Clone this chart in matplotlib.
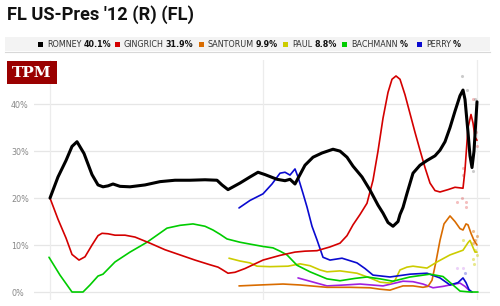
import matplotlib
matplotlib.use("Agg")
import matplotlib.pyplot as plt
from matplotlib.patches import Rectangle
from matplotlib import font_manager
import numpy as np

# ---------------- data (x = days from start, y = %) ----------------
romney_x = [0, 8, 16, 22, 27, 34, 42, 48, 53, 58, 63, 70, 80, 95, 110, 125, 140, 155, 167, 172, 178, 184, 190, 200, 208, 215, 227, 235, 240, 245, 250, 255, 263, 272, 283, 290, 297, 303, 312, 320, 328, 333, 338, 343, 348, 350, 353, 357, 363, 370, 377, 385, 390, 395, 400, 405, 410, 413, 415, 418, 420, 422, 424, 426, 427]
romney_y = [20.0, 24.5, 28.0, 31.0, 32.0, 29.5, 25.0, 22.8, 22.4, 22.6, 23.0, 22.5, 22.4, 22.8, 23.5, 23.8, 23.8, 23.9, 23.8, 22.8, 21.8, 22.5, 23.2, 24.5, 25.5, 25.0, 24.0, 23.7, 24.0, 23.0, 25.0, 27.0, 28.7, 29.6, 30.4, 30.0, 28.7, 26.8, 24.5, 21.7, 18.5, 16.8, 14.8, 14.0, 15.0, 16.5, 18.0, 21.0, 25.3, 27.0, 28.0, 29.0, 30.2, 32.0, 35.0, 38.5, 41.8, 43.0, 41.0, 34.0, 29.0, 26.5, 30.0, 37.0, 40.5]

gingrich_x = [0, 8, 16, 22, 29, 35, 42, 48, 52, 58, 65, 75, 85, 100, 115, 130, 145, 160, 168, 172, 178, 185, 195, 213, 230, 245, 255, 267, 280, 290, 297, 303, 310, 317, 323, 328, 333, 338, 342, 346, 350, 355, 360, 365, 370, 375, 380, 385, 390, 398, 405, 413, 415, 418, 421, 423, 425, 427]
gingrich_y = [20.0, 15.5, 11.5, 8.0, 6.8, 7.5, 10.0, 12.0, 12.5, 12.4, 12.1, 12.1, 11.7, 10.4, 9.0, 7.9, 6.8, 5.8, 5.3, 4.8, 4.0, 4.2, 5.0, 6.8, 7.8, 8.5, 8.7, 8.8, 9.6, 10.4, 12.0, 14.3, 16.5, 18.9, 23.8, 30.0, 37.0, 42.5, 45.3, 46.0, 45.3, 42.0, 38.0, 34.0, 30.2, 26.5, 23.2, 21.6, 21.3, 21.8, 22.3, 22.1, 26.0, 35.0, 37.8, 36.0, 33.0, 32.3]

santorum_x = [189, 210, 233, 250, 277, 300, 320, 330, 340, 347, 353, 363, 373, 378, 382, 386, 390, 394, 400, 405, 410, 413, 416, 418, 421, 424, 427]
santorum_y = [1.3, 1.5, 1.7, 1.5, 1.0, 1.0, 0.9, 0.6, 0.4, 0.9, 1.3, 1.3, 1.0, 1.2, 2.5, 6.5, 11.0, 14.5, 16.2, 15.0, 13.5, 13.2, 14.5, 14.3, 12.5, 11.0, 10.0]

paul_x = [179, 190, 200, 207, 220, 238, 250, 260, 270, 277, 290, 307, 320, 330, 340, 345, 350, 357, 363, 370, 377, 387, 400, 413, 418, 420, 423, 425, 427]
paul_y = [7.2, 6.6, 6.2, 5.5, 5.4, 5.5, 6.0, 5.6, 4.7, 4.3, 4.5, 4.0, 3.0, 2.1, 1.9, 2.5, 4.7, 5.3, 5.5, 5.3, 5.1, 6.4, 7.9, 8.9, 10.5, 11.0, 9.5, 8.5, 8.5]

bachmann_x = [-1, 10, 22, 33, 40, 48, 53, 65, 80, 97, 117, 130, 143, 155, 163, 170, 177, 190, 200, 213, 223, 230, 237, 247, 260, 277, 290, 305, 317, 330, 343, 360, 380, 393, 403, 410, 420, 428]
bachmann_y = [7.4, 3.6, 0.0, 0.0, 1.5, 3.4, 3.8, 6.4, 8.5, 10.6, 13.6, 14.2, 14.5, 14.0, 13.2, 12.3, 11.3, 10.6, 10.2, 9.7, 9.4, 8.7, 7.9, 5.7, 4.3, 2.8, 2.4, 2.9, 3.2, 2.8, 2.3, 3.2, 3.8, 3.3, 1.5, 0.2, 0.0, 0.0]

perry_x = [189, 200, 213, 222, 230, 235, 240, 245, 248, 253, 257, 262, 267, 273, 280, 292, 307, 315, 323, 340, 360, 377, 390, 400, 408, 413, 416, 419, 422]
perry_y = [17.9, 19.5, 20.9, 23.0, 25.3, 25.5, 24.9, 26.2, 24.5, 21.0, 18.1, 14.0, 11.1, 7.4, 6.8, 7.2, 6.2, 5.0, 3.6, 3.2, 3.8, 4.0, 3.0, 1.5, 2.0, 3.0, 2.0, 0.5, 0.0]

other_x = [248, 277, 295, 310, 333, 345, 353, 363, 373, 383, 393, 400, 410, 415, 420, 422]
other_y = [3.0, 1.3, 1.5, 1.7, 1.3, 1.9, 2.3, 2.2, 1.7, 0.9, 1.2, 1.5, 1.9, 1.2, 0.2, 0.0]

# raw poll dots near the end
dots_romney_x = [412, 417, 425, 423]
dots_romney_y = [46.0, 43.0, 41.2, 25.7]
dots_gingrich_x = [423, 426, 427, 413, 413, 412, 416, 416, 407]
dots_gingrich_y = [41.2, 34.0, 31.0, 26.4, 25.0, 20.0, 19.1, 18.1, 19.1]
dots_santorum_x = [423, 427, 425, 423]
dots_santorum_y = [13.0, 12.0, 11.0, 10.5]
dots_paul_x = [413, 425, 427, 423, 424]
dots_paul_y = [11.0, 8.9, 7.9, 7.0, 6.0]
dots_other_x = [407, 413]
dots_other_y = [5.1, 5.1]
dots_perry_x = [415]
dots_perry_y = [4.0]

yticks = [0, 10, 20, 30, 40]
ytick_labels = ["0%", "10%", "20%", "30%", "40%"]
vgrid = [0, 213, 427]

title = "FL US-Pres '12 (R) (FL)"
legend_names = ["ROMNEY", "GINGRICH", "SANTORUM", "PAUL", "BACHMANN", "PERRY"]
legend_values = ["40.1%", "31.9%", "9.9%", "8.8%", "%", "%"]

# ---------------- styling ----------------
C_ROM = "#000000"
C_GIN = "#d40000"
C_SAN = "#d96c00"
C_PAU = "#cccc00"
C_BAC = "#00cc00"
C_PER = "#0a0ad0"
C_OTH = "#a020e0"
legend_colors = [C_ROM, C_GIN, C_SAN, C_PAU, C_BAC, C_PER]

W, H = 500, 306
fig = plt.figure(figsize=(W / 100, H / 100), dpi=100)
fig.patch.set_facecolor("white")

def fx(px):
    return px / W

def fy(py):
    return 1 - py / H

# axes: px 34..490 horizontally, py 60..300 vertically
ax = fig.add_axes([fx(34), fy(300), fx(490) - fx(34), fy(60) - fy(300)])
ax.set_xlim(-16, 440)
ax.set_ylim(-1.7, 49.4)
for s in ax.spines.values():
    s.set_visible(False)
for yv in yticks:
    ax.axhline(yv, color="#e6e6e6", lw=0.9, zorder=0)
for xv in vgrid:
    ax.axvline(xv, color="#ececec", lw=0.9, zorder=0)
ax.set_xticks([])
ax.set_yticks(yticks)
ax.set_yticklabels(ytick_labels)
ax.tick_params(axis="y", length=0, pad=16.5, labelsize=5.8, labelcolor="#888888")
for lab in ax.get_yticklabels():
    lab.set_horizontalalignment("left")

# dots
dot_kw = dict(s=5, lw=0, zorder=1)
ax.scatter(dots_gingrich_x, dots_gingrich_y, color=C_GIN, alpha=0.25, **dot_kw)
ax.scatter(dots_romney_x, dots_romney_y, color="#555555", alpha=0.3, **dot_kw)
ax.scatter(dots_santorum_x, dots_santorum_y, color=C_SAN, alpha=0.45, **dot_kw)
ax.scatter(dots_paul_x, dots_paul_y, color=C_PAU, alpha=0.45, **dot_kw)
ax.scatter(dots_other_x, dots_other_y, color=C_OTH, alpha=0.2, **dot_kw)
ax.scatter(dots_perry_x, dots_perry_y, color=C_PER, alpha=0.3, **dot_kw)

lk = dict(solid_joinstyle="round", solid_capstyle="round")
ax.plot(other_x, other_y, color=C_OTH, lw=1.2, zorder=2, **lk)
ax.plot(santorum_x, santorum_y, color=C_SAN, lw=1.2, zorder=2, **lk)
ax.plot(paul_x, paul_y, color=C_PAU, lw=1.2, zorder=2, **lk)
ax.plot(perry_x, perry_y, color=C_PER, lw=1.2, zorder=3, **lk)
ax.plot(bachmann_x, bachmann_y, color=C_BAC, lw=1.2, zorder=3, **lk)
ax.plot(gingrich_x, gingrich_y, color=C_GIN, lw=1.2, zorder=4, **lk)
ax.plot(romney_x, romney_y, color=C_ROM, lw=2.2, zorder=5, **lk)

renderer = fig.canvas.get_renderer()

# title, fitted to the reference width (px 7..195)
tt = fig.text(fx(7), fy(15), title, fontsize=19, va="center", ha="left", color="#111111",
              fontweight="bold", family=["Roboto", "Liberation Sans", "DejaVu Sans"])
tw = tt.get_window_extent(renderer).width
tt.set_fontsize(min(20, 19 * 188.0 / tw))

# legend band
band = Rectangle((fx(5), fy(51)), fx(490) - fx(5), fy(37) - fy(51), transform=fig.transFigure,
                 facecolor="#f3f3f3", edgecolor="none", zorder=0)
fig.patches.append(band)
fig.add_artist(plt.Line2D([fx(5), fx(490)], [fy(52), fy(52)], transform=fig.transFigure,
                          color="#d8d8d8", lw=0.8))

sq_px = [38, 115, 199, 283, 342, 417]
for name, val, col, sx in zip(legend_names, legend_values, legend_colors, sq_px):
    fig.add_artist(Rectangle((fx(sx), fy(47)), 5 / W, 5 / H, transform=fig.transFigure,
                             facecolor=col, edgecolor="none"))
    t = fig.text(fx(sx + 9), fy(44.5), name, fontsize=5.8, color="#333333", va="center", ha="left")
    bb = t.get_window_extent(renderer)
    fig.text(bb.x1 / W + 2 / W, fy(44.5), val, fontsize=5.8, fontweight="bold", color="#111111",
             va="center", ha="left")

# TPM logo
fig.add_artist(Rectangle((fx(7), fy(84)), 50 / W, 23 / H, transform=fig.transFigure,
                         facecolor="#9a0000", edgecolor="none"))
fig.text(fx(32), fy(73), "TPM", fontsize=11, fontweight="bold", family="DejaVu Serif",
         color="white", ha="center", va="center")

fig.savefig("out.png", dpi=100)
